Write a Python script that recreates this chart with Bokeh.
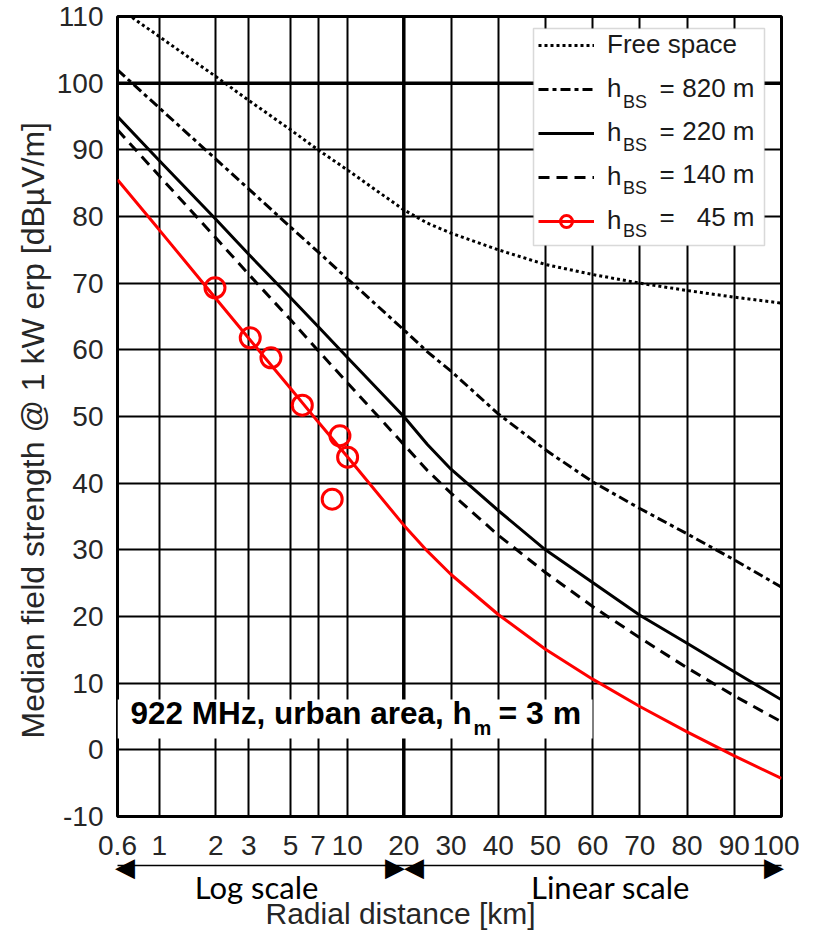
import numpy as np
from bokeh.plotting import figure
from bokeh.models import (FixedTicker, Span, Legend, LegendItem, Label, Title, LinearAxis,
                          BoxAnnotation, Range1d)
from bokeh.embed import file_html
from bokeh.resources import INLINE

# ---------------- data ----------------
dist_km = [0.6, 1, 2, 3, 5, 7, 10, 20, 25, 30, 40, 50, 60, 70, 80, 90, 100]
free_space = [111.4, 107.0, 101.0, 97.4, 93.0, 90.0, 87.0, 81.0, 79.0, 77.5, 75.0, 72.8, 71.3, 70.0, 68.9, 67.9, 67.0]
hbs_820 = [102.0, 96.3, 88.6, 84.1, 78.4, 74.7, 70.7, 63.0, 59.7, 56.8, 50.4, 45.0, 40.2, 36.2, 32.4, 28.5, 24.4]
hbs_220 = [95.0, 88.4, 79.6, 74.3, 67.8, 63.5, 58.9, 50.0, 45.8, 42.1, 35.9, 30.0, 25.1, 20.2, 16.0, 11.7, 7.5]
hbs_140 = [93.0, 86.1, 76.8, 71.3, 64.5, 59.9, 55.1, 45.8, 41.9, 38.5, 32.2, 26.6, 21.5, 16.8, 12.3, 8.1, 4.2]
hbs_45 = [85.5, 78.0, 67.7, 61.7, 54.2, 49.2, 44.0, 33.7, 29.8, 26.3, 20.3, 15.1, 10.6, 6.5, 2.7, -0.9, -4.3]
meas_km = [1.98, 3.05, 3.93, 5.77, 8.32, 9.15, 10.05]
meas_45 = [69.3, 61.8, 58.8, 51.7, 37.6, 47.1, 43.9]

antenna_heights = [820, 220, 140, 45]
x_tick_km = [0.6, 1, 2, 3, 5, 7, 10, 20, 30, 40, 50, 60, 70, 80, 90, 100]
x_tick_labels = ["0.6", "1", "2", "3", "5", "7", "10", "20", "30", "40", "50", "60", "70", "80", "90", "100"]
x_grid_km = [1, 2, 3, 5, 7, 10, 30, 40, 50, 60, 70, 80, 90]
y_ticks = list(range(-10, 111, 10))
y_tick_labels = [str(v) for v in y_ticks]
scale_names = ["Log scale", "Linear scale"]

# ---------------- mixed log / linear distance axis ----------------
SPLIT_KM = 20.0
LIN_PER_KM = 0.025114   # linear part: 80 km take ~2.009 decades of width


def to_u(km):
    km = np.asarray(km, dtype=float)
    return np.where(km <= SPLIT_KM, np.log10(km),
                    np.log10(SPLIT_KM) + (km - SPLIT_KM) * LIN_PER_KM)


U_MIN = float(to_u(0.6))
U_MAX = float(to_u(100))
U_SPLIT = float(to_u(SPLIT_KM))

# ---------------- figure geometry ----------------
W, H = 799, 934
B_L, B_T = 117, 16
B_R = W - 781
B_B = H - 816
FW, FH = W - B_L - B_R, H - B_T - B_B


def px_u(sx):  # picture px -> distance coordinate (annotation placement)
    return U_MIN + (sx - B_L) / FW * (U_MAX - U_MIN)


def px_y(sy):  # picture px -> dB coordinate (annotation placement)
    return 110 - (sy - B_T) / FH * 120


p = figure(width=W, height=H, output_backend="svg", toolbar_location=None, tools="",
           x_range=Range1d(U_MIN, U_MAX), y_range=Range1d(-10, 110),
           min_border_left=B_L, min_border_right=B_R,
           min_border_top=B_T, min_border_bottom=B_B)
p.background_fill_color = "white"
p.border_fill_color = "white"
p.outline_line_color = "black"
p.outline_line_width = 3

# grid
p.xgrid.ticker = FixedTicker(ticks=[float(v) for v in to_u(x_grid_km)])
p.ygrid.ticker = FixedTicker(ticks=y_ticks)
for g in (p.xgrid[0], p.ygrid[0]):
    g.grid_line_color = "black"
    g.grid_line_width = 2
p.add_layout(Span(location=U_SPLIT, dimension="height", line_color="black",
                  line_width=3.5, level="underlay"))
p.add_layout(Span(location=100, dimension="width", line_color="black",
                  line_width=3.5, level="underlay"))


def plain_axis(ax, font, size, color):
    ax.axis_line_color = None
    ax.major_tick_line_color = None
    ax.minor_tick_line_color = None
    ax.major_tick_out = 0
    ax.major_tick_in = 0
    ax.minor_tick_out = 0
    ax.minor_tick_in = 0
    ax.major_label_text_font = font
    ax.major_label_text_font_size = size
    ax.major_label_text_color = color


# main axes
tick_u = [float(v) for v in to_u(x_tick_km)]
xa = p.xaxis[0]
xa.ticker = FixedTicker(ticks=tick_u)
xa.major_label_overrides = {t: lab for t, lab in zip(tick_u, x_tick_labels)}
xa.major_label_standoff = 19
plain_axis(xa, "Liberation Sans", "28px", "#262626")
# a blank 1px axis label only adds a little room before the arrow row
xa.axis_label = " "
xa.axis_label_standoff = 4
xa.axis_label_text_font_size = "1px"

ya = p.yaxis[0]
ya.ticker = FixedTicker(ticks=y_ticks)
ya.major_label_overrides = {t: lab for t, lab in zip(y_ticks, y_tick_labels)}
ya.major_label_standoff = 14
plain_axis(ya, "Liberation Sans", "28px", "#262626")

# arrow row: axis line as shaft, head glyphs as labels
head_px = [124.5, 394.5, 413.5, 773.5]
head_u = [px_u(v) for v in head_px]
arrow_ax = LinearAxis(ticker=FixedTicker(ticks=head_u),
                      major_label_overrides=dict(zip(head_u, ["◀", "▶", "◀", "▶"])),
                      major_label_standoff=-14)
plain_axis(arrow_ax, "DejaVu Sans", "26px", "black")
arrow_ax.axis_line_color = "black"
arrow_ax.axis_line_width = 1.5
p.add_layout(arrow_ax, "below")

# "Log scale" / "Linear scale" row
scale_u = [px_u(256), px_u(610)]
scale_ax = LinearAxis(ticker=FixedTicker(ticks=scale_u),
                      major_label_overrides=dict(zip(scale_u, scale_names)),
                      major_label_standoff=-17)
plain_axis(scale_ax, "Lato", "31px", "black")
p.add_layout(scale_ax, "below")

# axis titles
p.add_layout(Title(text="Radial distance [km]", align="left", offset=148, standoff=-24,
                   vertical_align="top", text_font="Liberation Sans",
                   text_font_style="normal", text_font_size="30px",
                   text_color="#262626"), "below")
p.add_layout(Title(text="Median field strength @ 1 kW erp [dBµV/m]", align="left",
                   offset=78, standoff=6, text_font="Liberation Sans",
                   text_font_style="normal", text_font_size="32px",
                   text_color="#262626"), "left")

# curves
u_d = to_u(dist_km)
l_fs = p.line(u_d, free_space, line_color="black", line_width=3, line_dash="3 3")
l_820 = p.line(u_d, hbs_820, line_color="black", line_width=3, line_dash="10 4 4 4")
l_220 = p.line(u_d, hbs_220, line_color="black", line_width=3)
l_140 = p.line(u_d, hbs_140, line_color="black", line_width=3, line_dash="11 7")
l_45 = p.line(u_d, hbs_45, line_color="#ff0000", line_width=3)
s_45 = p.scatter(to_u(meas_km), meas_45, marker="circle", size=20, fill_color=None,
                 line_color="#ff0000", line_width=3)

# legend frame + legend
p.add_layout(BoxAnnotation(left=px_u(533), right=px_u(764), top=px_y(28), bottom=px_y(245),
                           fill_color="white", fill_alpha=1, line_color="#808080",
                           line_width=1.5))
LG_M, LG_P, LG_H, LG_S = 7, 6, 30, 13
legend = Legend(items=[LegendItem(label="Free space", renderers=[l_fs]),
                       LegendItem(label="h", renderers=[l_820]),
                       LegendItem(label="h", renderers=[l_220]),
                       LegendItem(label="h", renderers=[l_140]),
                       LegendItem(label="h", renderers=[l_45, s_45])],
                location="top_right", margin=LG_M, padding=LG_P, spacing=LG_S,
                glyph_width=56, glyph_height=LG_H, label_height=LG_H, label_width=161,
                label_standoff=13, label_text_font="Liberation Sans",
                label_text_font_size="26px", label_text_color="#1a1a1a",
                background_fill_alpha=0, border_line_alpha=0)
p.add_layout(legend)
for k, hb in enumerate(antenna_heights, start=1):
    row = B_T + LG_M + LG_P + LG_H / 2 + k * (LG_H + LG_S)
    p.add_layout(Label(x=px_u(622.5), y=px_y(row + 14), text="BS", text_baseline="middle",
                       text_font="Liberation Sans", text_font_size="18px", text_color="#1a1a1a"))
    p.add_layout(Label(x=px_u(659), y=px_y(row), text="=", text_baseline="middle",
                       text_font="Liberation Sans", text_font_size="26px", text_color="#1a1a1a"))
    p.add_layout(Label(x=px_u(754), y=px_y(row), text=f"{hb} m", text_baseline="middle",
                       text_align="right", text_font="Liberation Sans",
                       text_font_size="26px", text_color="#1a1a1a"))

# condition box
p.add_layout(BoxAnnotation(left=U_MIN, right=px_u(592), top=px_y(699), bottom=px_y(738),
                           fill_color="white", fill_alpha=1, line_alpha=0))
p.add_layout(Label(x=px_u(130), y=px_y(730), text="922 MHz, urban area, h",
                   text_font="Liberation Sans", text_font_style="bold",
                   text_font_size="31.5px", text_color="black"))
p.add_layout(Label(x=px_u(473), y=px_y(738), text="m", text_font="Liberation Sans",
                   text_font_style="bold", text_font_size="20px", text_color="black"))
p.add_layout(Label(x=px_u(498), y=px_y(730), text="= 3 m", text_font="Liberation Sans",
                   text_font_style="bold", text_font_size="32px", text_color="black"))

open("out.html", "w").write(file_html(p, INLINE))
